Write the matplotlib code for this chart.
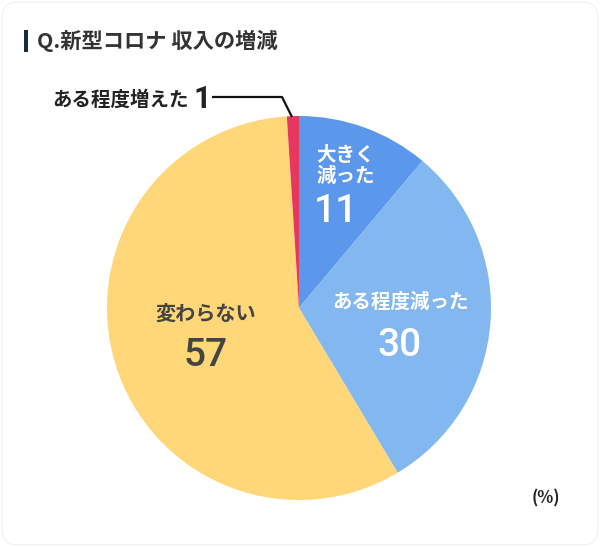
import matplotlib
matplotlib.use("Agg")
import matplotlib.pyplot as plt
from matplotlib.patches import FancyBboxPatch, Rectangle

plt.rcParams['font.family'] = ['Noto Sans CJK JP', 'DejaVu Sans']

title = "Q.新型コロナ 収入の増減"
categories = ["大きく\n減った", "ある程度減った", "変わらない", "ある程度増えた"]
values = [11, 30, 57, 1]
colors = ["#5B98EC", "#82B7F0", "#FFD778", "#E8375F"]
unit_label = "(%)"

NUM_FONT = ['Roboto', 'DejaVu Sans']

W, H = 600, 547
fig = plt.figure(figsize=(W / 100, H / 100), dpi=100)
ax = fig.add_axes([0, 0, 1, 1])

def Y(y):
    return H - y

cx, cy, r = 299, Y(308), 192
ax.pie(values, colors=colors, startangle=90, counterclock=False,
       center=(cx, cy), radius=r, frame=True,
       wedgeprops=dict(linewidth=0))
ax.set_xlim(0, W)
ax.set_ylim(0, H)
ax.set_aspect('equal')
ax.axis('off')

# faint card border
ax.add_patch(FancyBboxPatch((2, 2), W - 4, H - 4, boxstyle="round,pad=0,rounding_size=16",
                            fc="none", ec="#F0F0F0", lw=0.8, zorder=0))

# title
ax.add_patch(Rectangle((24, Y(52)), 3.5, 22, color="#1B2B3A", lw=0))
ax.text(37, Y(41), title, fontsize=15.3, fontweight='bold', color="#333333",
        ha='left', va='center')

# labels inside
ax.text(316, Y(166), categories[0], fontsize=14, fontweight='bold', color="white",
        ha='left', va='center', linespacing=1.15)
ax.text(314, Y(211), str(values[0]), fontsize=28, fontweight='medium', color="white",
        ha='left', va='center', family=NUM_FONT)

ax.text(400, Y(302), categories[1], fontsize=14, fontweight='bold', color="white",
        ha='center', va='center')
ax.text(400, Y(345), str(values[1]), fontsize=28, fontweight='medium', color="white",
        ha='center', va='center', family=NUM_FONT)

ax.text(206, Y(313), categories[2], fontsize=14.5, fontweight='bold', color="#444444",
        ha='center', va='center')
ax.text(206, Y(355), str(values[2]), fontsize=28, fontweight='medium', color="#444444",
        ha='center', va='center', family=NUM_FONT)

# outside label for small slice
ax.text(52, Y(100), categories[3], fontsize=14, fontweight='bold', color="#222222",
        ha='left', va='center')
ax.text(194, Y(99), str(values[3]), fontsize=22, fontweight='bold', color="#222222",
        ha='left', va='center', family=NUM_FONT)
ax.plot([212, 282, 292], [Y(97), Y(97), Y(117)], color="#111111", lw=1.6,
        solid_capstyle='butt', zorder=5)

ax.text(546, Y(498), unit_label, fontsize=12, fontweight='bold', color="#222222",
        ha='center', va='center')

fig.savefig("out.png", dpi=100)
